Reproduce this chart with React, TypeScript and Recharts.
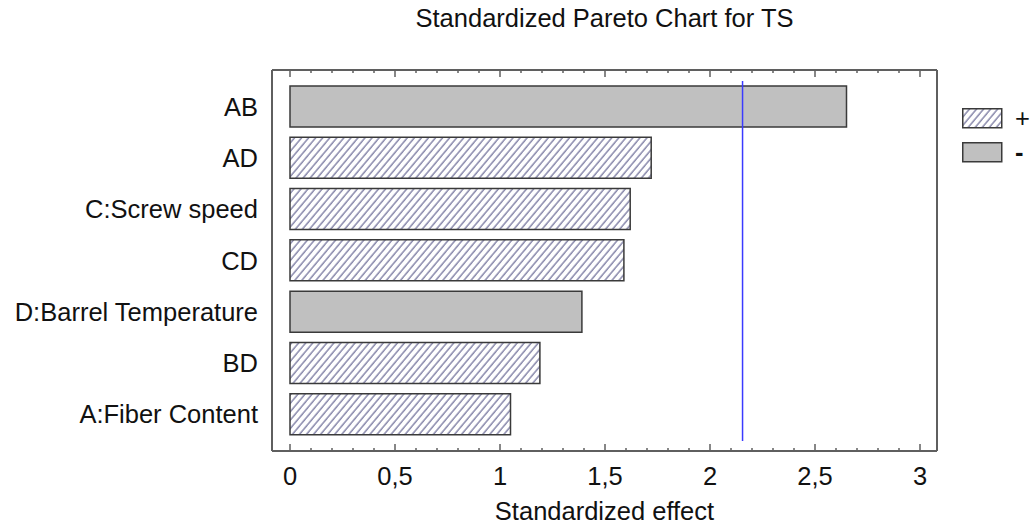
import React from 'react';
import { BarChart, Bar, XAxis, YAxis, Cell, ReferenceLine } from 'recharts';

// effects, top to bottom as drawn
const factors = ['AB', 'AD', 'C:Screw speed', 'CD', 'D:Barrel Temperature', 'BD', 'A:Fiber Content'];
const effects = [2.65, 1.72, 1.62, 1.59, 1.39, 1.19, 1.05];
const signs = ['-', '+', '+', '+', '-', '+', '+'];
const criticalValue = 2.155;

const axisTicks = [
  0, 0.1, 0.2, 0.3, 0.4, 0.5, 0.6, 0.7, 0.8, 0.9, 1, 1.1, 1.2, 1.3, 1.4, 1.5, 1.6, 1.7, 1.8, 1.9, 2,
  2.1, 2.2, 2.3, 2.4, 2.5, 2.6, 2.7, 2.8, 2.9, 3,
];
const legendItems = ['+', '-'];

const FONT = '"Liberation Sans", Arial, sans-serif';
const FRAME = '#5f5f5f';
const GREY = '#c0c0c0';
const HATCH = '#5c5c8c';
const PLOT_TOP = 70;

const data = factors.map((name, i) => ({ name, effect: effects[i], sign: signs[i] }));

const isMajor = (v: number) => Math.abs(v * 2 - Math.round(v * 2)) < 1e-6;
const fmt = (v: number) => String(Math.round(v * 10) / 10).replace('.', ',');

// bottom axis tick: inward tick mark, label for majors, plus the matching mark on the top edge
const BottomTick = (props: any) => {
  const { x, y, payload } = props;
  const len = isMajor(payload.value) ? 7 : 3;
  return (
    <g>
      <line x1={x} x2={x} y1={y} y2={y - len} stroke={FRAME} strokeWidth={1.5} />
      <line x1={x} x2={x} y1={PLOT_TOP} y2={PLOT_TOP + len} stroke={FRAME} strokeWidth={1.5} />
      {isMajor(payload.value) && (
        <text x={x} y={y + 34} textAnchor="middle" fontSize={25.5} fontFamily={FONT} fill="#111">
          {fmt(payload.value)}
        </text>
      )}
    </g>
  );
};

const CritLine = (props: any) => {
  const { x1, y1, x2, y2 } = props;
  const top = Math.min(y1, y2) + 11;
  const bottom = Math.max(y1, y2) - 10;
  return <line x1={x1} x2={x2} y1={top} y2={bottom} stroke="#3a3aff" strokeWidth={1.5} />;
};

const HatchPattern = ({ id }: { id: string }) => (
  <pattern id={id} width={5.4} height={10} patternUnits="userSpaceOnUse" patternTransform="rotate(40)">
    <rect width={5.4} height={10} fill="#fff" />
    <line x1={1} y1={0} x2={1} y2={10} stroke={HATCH} strokeWidth={1.1} />
  </pattern>
);

export default function App() {
  return (
    <div style={{ position: 'absolute', left: 0, top: 0, width: 1031, height: 527, background: '#fff', fontFamily: FONT }}>
      <div
        style={{
          position: 'absolute',
          left: 272,
          width: 665,
          top: 4,
          textAlign: 'center',
          fontSize: 25.5,
          color: '#111',
        }}
      >
        Standardized Pareto Chart for TS
      </div>

      <BarChart
        width={1031}
        height={527}
        data={data}
        layout="vertical"
        margin={{ top: PLOT_TOP - 2, right: 92, bottom: 0, left: 12 }}
        style={{ position: 'absolute', left: 0, top: 0 }}
      >
        <defs>
          <HatchPattern id="hatch" />
        </defs>
        <XAxis
          type="number"
          domain={[0, 3]}
          ticks={axisTicks}
          interval={0}
          height={76}
          padding={{ left: 18, right: 17 }}
          tickSize={0}
          tickMargin={0}
          tickLine={false}
          axisLine={{ stroke: FRAME, strokeWidth: 2 }}
          tick={<BottomTick />}
          label={{
            value: 'Standardized effect',
            position: 'insideBottom',
            offset: 7,
            fontSize: 25.5,
            fontFamily: FONT,
            fill: '#111',
          }}
        />
        <XAxis
          xAxisId="top"
          orientation="top"
          type="number"
          domain={[0, 3]}
          height={2}
          padding={{ left: 18, right: 17 }}
          tick={false}
          tickLine={false}
          axisLine={{ stroke: FRAME, strokeWidth: 2 }}
        />
        <YAxis
          type="category"
          dataKey="name"
          width={260}
          padding={{ top: 11, bottom: 11 }}
          tickSize={0}
          tickMargin={14}
          tickLine={false}
          axisLine={{ stroke: FRAME, strokeWidth: 2 }}
          tick={{ fontSize: 25.5, fontFamily: FONT, fill: '#111' }}
        />
        <YAxis
          yAxisId="right"
          orientation="right"
          type="category"
          dataKey="name"
          width={2}
          tick={false}
          tickLine={false}
          axisLine={{ stroke: FRAME, strokeWidth: 2 }}
        />
        <Bar dataKey="effect" barSize={41} stroke="#3a3a3a" strokeWidth={1.5} isAnimationActive={false}>
          {data.map((d) => (
            <Cell key={d.name} fill={d.sign === '+' ? 'url(#hatch)' : GREY} />
          ))}
        </Bar>
        <ReferenceLine x={criticalValue} shape={<CritLine />} />
      </BarChart>

      <div style={{ position: 'absolute', left: 962, top: 101 }}>
        {legendItems.map((s, i) => (
          <div key={s} style={{ display: 'flex', alignItems: 'center', height: 34 }}>
            <svg width={41} height={21}>
              <defs>
                <HatchPattern id={'lg-hatch-' + i} />
              </defs>
              <rect
                x={0.75}
                y={0.75}
                width={39}
                height={19}
                fill={s === '+' ? `url(#lg-hatch-${i})` : GREY}
                stroke="#3a3a3a"
                strokeWidth={1.5}
              />
            </svg>
            <span style={{ fontSize: 25.5, marginLeft: 12, color: '#111', fontWeight: s === '-' ? 'bold' : 'normal' }}>
              {s}
            </span>
          </div>
        ))}
      </div>
    </div>
  );
}
